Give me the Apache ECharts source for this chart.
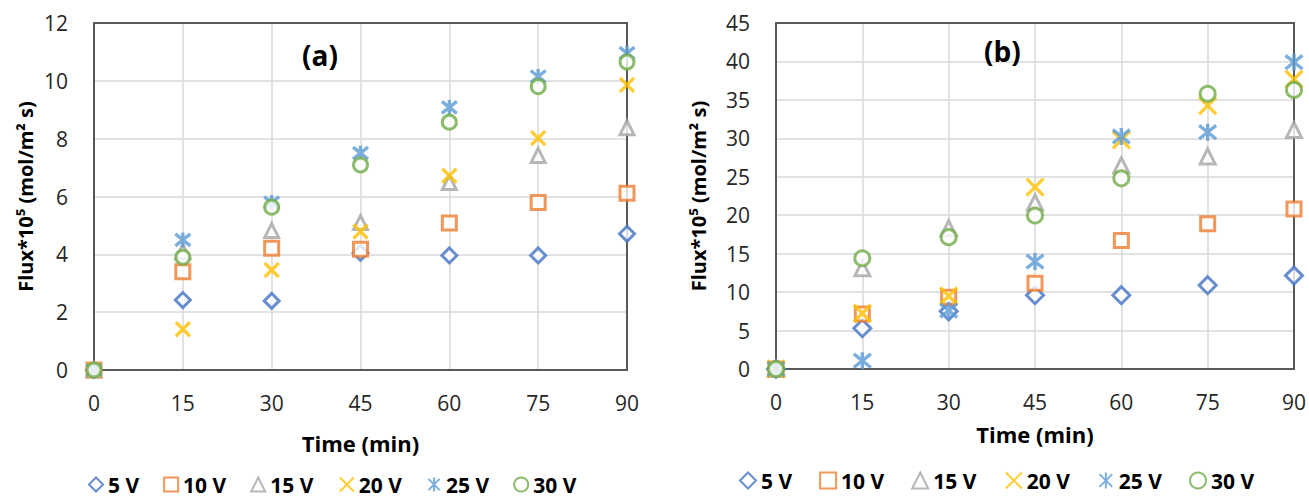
<!DOCTYPE html>
<html>
<head>
<meta charset="utf-8">
<style>
  html, body { margin: 0; padding: 0; background: #fff; }
  #chart { width: 1309px; height: 499px; }
</style>
<script src="https://cdn.jsdelivr.net/npm/echarts@6/dist/echarts.min.js"></script>
</head>
<body>
<div id="chart"></div>
<script>
// time axis (min)
var times = [0, 15, 30, 45, 60, 75, 90];
var seriesNames = ['5 V', '10 V', '15 V', '20 V', '25 V', '30 V'];

// panel (a) flux values
var a5V  = [0, 2.42, 2.39, 4.05, 3.96, 3.96, 4.71];
var a10V = [0, 3.40, 4.21, 4.18, 5.08, 5.79, 6.11];
var a15V = [0, 4.10, 4.82, 5.10, 6.48, 7.42, 8.38];
var a20V = [0, 1.41, 3.46, 4.79, 6.72, 8.02, 9.86];
var a25V = [0, 4.50, 5.79, 7.50, 9.08, 10.15, 10.96];
var a30V = [0, 3.90, 5.63, 7.09, 8.57, 9.80, 10.65];

// panel (b) flux values
var b5V  = [0, 5.3, 7.5, 9.6, 9.6, 10.9, 12.15];
var b10V = [0, 7.16, 9.33, 11.16, 16.7, 18.9, 20.8];
var b15V = [0, 13.1, 18.3, 21.65, 26.5, 27.65, 31.1];
var b20V = [0, 7.25, 9.5, 23.65, 29.8, 34.25, 37.7];
var b25V = [0, 1.08, 7.6, 13.97, 30.25, 30.8, 39.9];
var b30V = [0, 14.4, 17.15, 19.96, 24.8, 35.8, 36.3];

var aTicks = { min: 0, max: 12, interval: 2 };
var bTicks = { min: 0, max: 45, interval: 5 };

(function() {
  var font = '"Open Sans", "Noto Sans", sans-serif';
  var frame = '#595959';
  var gridLine = '#D9D9D9';
  var colors = ['#4472C4', '#ED7D31', '#A5A5A5', '#FFC000', '#5B9BD5', '#70AD47'];
  var symX = 'path://M0,0L10,10M10,0L0,10';
  var symStar = 'path://M1,1L9,9M9,1L1,9M5,0L5,10';
  var symbols = ['diamond', 'rect', 'triangle', symX, symStar, 'circle'];
  var sizesA = [15, 14, 14, 14, 15, 14];
  var sizesB = [17, 14, 15, 17, 17, 15];

  function pairs(vals) {
    return vals.map(function(v, i) { return [times[i], v]; });
  }

  function makeSeries(arrs, idx, sizes) {
    return arrs.map(function(vals, k) {
      var isLine = k === 3 || k === 4;
      return {
        name: seriesNames[k],
        type: 'scatter',
        xAxisIndex: idx,
        yAxisIndex: idx,
        symbol: symbols[k],
        symbolSize: sizes[k],
        itemStyle: {
          color: isLine ? 'none' : '#fff',
          borderColor: colors[k],
          borderWidth: isLine ? 3.4 : 3
        },
        emphasis: { disabled: true },
        data: pairs(vals)
      };
    });
  }

  function xAx(idx, gap) {
    return {
      type: 'value', gridIndex: idx, min: 0, max: 90, interval: 15,
      name: 'Time (min)', nameLocation: 'middle', nameGap: gap,
      nameTextStyle: { fontFamily: font, fontWeight: 'bold', fontSize: 22, color: '#000' },
      axisLine: { show: true, onZero: false, lineStyle: { color: frame, width: 2 } },
      axisTick: { show: false },
      axisLabel: { fontFamily: font, fontSize: 21, color: '#262626', margin: 22 },
      splitLine: { showMinLine: false, showMaxLine: false, lineStyle: { color: gridLine, width: 1.5 } }
    };
  }

  function yAx(idx, t, gap) {
    return {
      type: 'value', gridIndex: idx, min: t.min, max: t.max, interval: t.interval,
      name: 'Flux*10⁵ (mol/m² s)', nameLocation: 'middle', nameGap: gap,
      nameTextStyle: { fontFamily: font, fontWeight: 'bold', fontSize: 20, color: '#000' },
      axisLine: { show: true, onZero: false, lineStyle: { color: frame, width: 2 } },
      axisTick: { show: false },
      axisLabel: { fontFamily: font, fontSize: 21, color: '#262626', margin: 26 },
      splitLine: { showMinLine: false, showMaxLine: false, lineStyle: { color: gridLine, width: 1.5 } }
    };
  }

  // plain axes on the top and right, only to close the plot frame
  function frameX(idx) {
    return {
      type: 'value', gridIndex: idx, position: 'top', min: 0, max: 90, interval: 15,
      axisLine: { show: true, onZero: false, lineStyle: { color: frame, width: 2 } },
      axisTick: { show: false }, axisLabel: { show: false }, splitLine: { show: false }
    };
  }
  function frameY(idx, t) {
    return {
      type: 'value', gridIndex: idx, position: 'right', min: t.min, max: t.max, interval: t.interval,
      axisLine: { show: true, onZero: false, lineStyle: { color: frame, width: 2 } },
      axisTick: { show: false }, axisLabel: { show: false }, splitLine: { show: false }
    };
  }

  function legendAt(left, top, icon, gap) {
    return {
      left: left, top: top, orient: 'horizontal', padding: 0,
      itemWidth: icon, itemHeight: icon, itemGap: gap,
      selectedMode: false,
      textStyle: { fontFamily: font, fontWeight: 'bold', fontSize: 21, lineHeight: 21, color: '#000' },
      data: seriesNames
    };
  }

  var chart = echarts.init(document.getElementById('chart'), null, { renderer: 'svg' });
  chart.setOption({
    animation: false,
    backgroundColor: '#fff',
    title: [
      { text: '(a)', left: 297, top: 36, textStyle: { fontFamily: font, fontWeight: 'bold', fontSize: 28, color: '#000' } },
      { text: '(b)', left: 979, top: 32, textStyle: { fontFamily: font, fontWeight: 'bold', fontSize: 28, color: '#000' } }
    ],
    legend: [legendAt(88, 474, 14, 24), legendAt(739, 470, 16, 27)],
    grid: [
      { left: 94, top: 23, width: 533, height: 347 },
      { left: 776, top: 23, width: 518, height: 346 }
    ],
    xAxis: [xAx(0, 62), xAx(1, 54), frameX(0), frameX(1)],
    yAxis: [yAx(0, aTicks, 59), yAx(1, bTicks, 68), frameY(0, aTicks), frameY(1, bTicks)],
    series: makeSeries([a5V, a10V, a15V, a20V, a25V, a30V], 0, sizesA)
      .concat(makeSeries([b5V, b10V, b15V, b20V, b25V, b30V], 1, sizesB))
  });
  window.addEventListener('resize', function() { chart.resize(); });
})();
</script>
</body>
</html>
